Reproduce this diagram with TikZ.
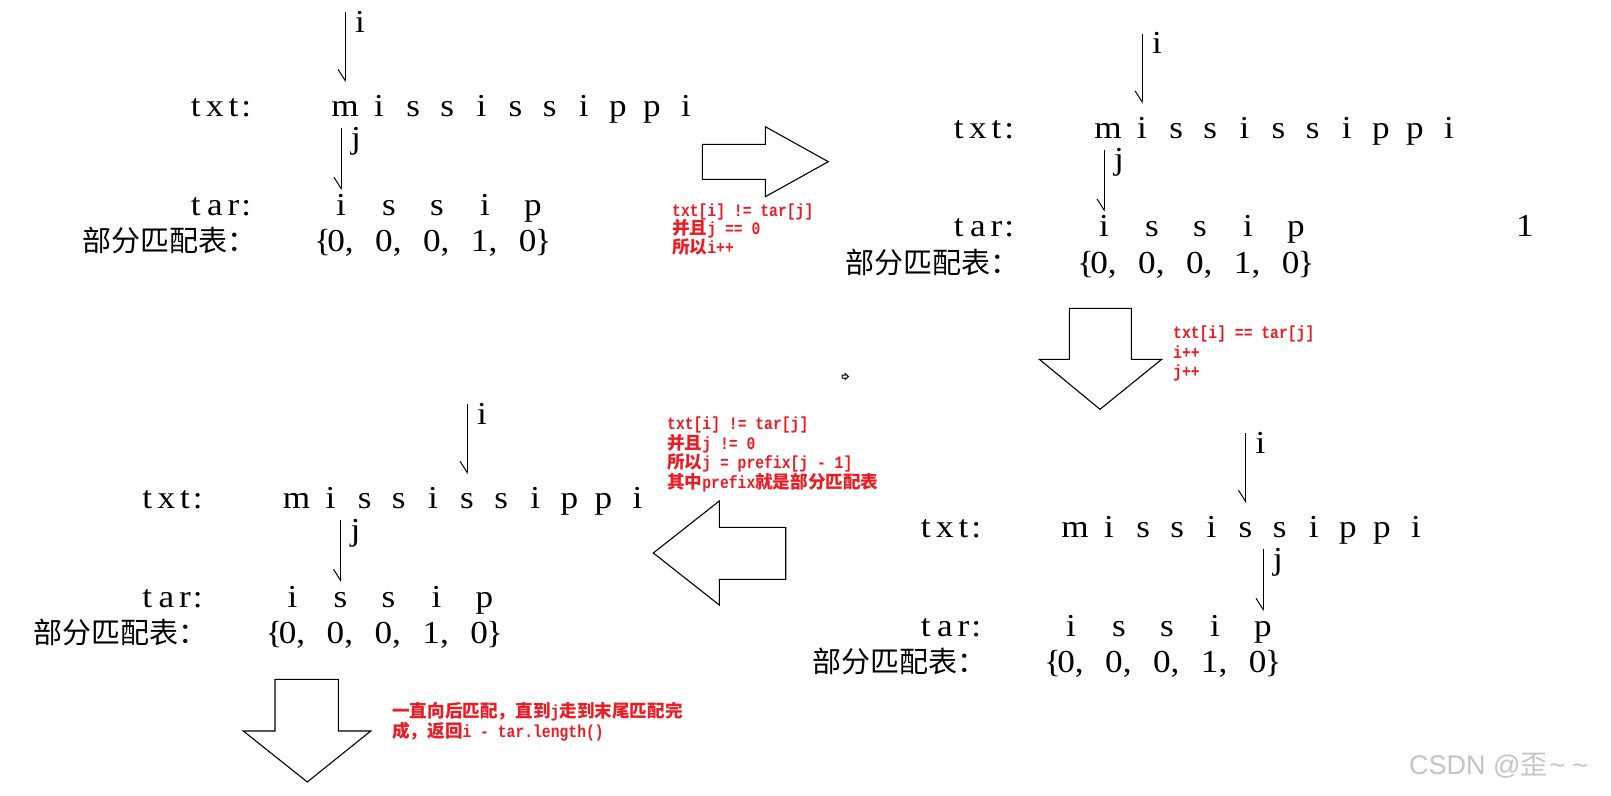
\documentclass[tikz,border=0pt]{standalone}
\usepackage{fontspec}
\setmainfont{Liberation Serif}[FakeStretch=1.1]
\newfontfamily\zh{Noto Sans CJK SC}
\newfontfamily\rmono{Liberation Mono}[FakeStretch=0.84]
\newfontfamily\wmfont{Liberation Sans}
\usetikzlibrary{arrows.meta}
\definecolor{redtxt}{RGB}{235,28,36}
\definecolor{wmgray}{RGB}{196,196,196}
\newcommand\lat{\fontsize{32}{36}\selectfont}
\newcommand\cjkbig{\zh\fontsize{29}{33}\selectfont}
\newcommand\rz[1]{{\zh\bfseries\fontsize{17.6}{19}\selectfont #1}}
\newcommand\rl{\rmono\bfseries\fontsize{17.5}{19}\selectfont}
\newcommand\word[4]{\makebox[19pt]{#1}\makebox[19.5pt]{#2}\makebox[17.5pt]{#3}\makebox[8pt]{#4}}
\newcommand\cell[1]{\makebox[47.9pt][l]{#1}}
\tikzset{
  lt/.style={inner sep=0pt, anchor=base, font=\lat},
  lbl/.style={inner sep=0pt, anchor=base west, font=\lat},
  zhlbl/.style={inner sep=0pt, anchor=base west, font=\cjkbig},
  ptr/.style={line width=1pt, -{Straight Barb[right,length=11pt,width=14pt]}},
  blockarrow/.style={draw, line width=1.1pt, fill=white, line join=miter},
  redline/.style={inner sep=0pt, anchor=base west, text=redtxt, font=\rl},
}
% #1 prefix, #2 dx, #3 dy, #4 txt index of i, #5 tar index of j
\newcommand\blk[5]{%
\begin{scope}[shift={(#2,#3)}]
  \node[lbl] (#1txt) at (186,116.7) {\word{t}{x}{t}{:}};
  \foreach \c [count=\k from 0] in {m,i,s,s,i,s,s,i,p,p,i}
    \node[lt] (#1t\k) at (345+34.1*\k,116.7) {\c};
  \node[lbl] (#1tar) at (186,215) {\word{t}{a}{r}{:}};
  \foreach \c [count=\k from 0] in {i,s,s,i,p}
    \node[lt] (#1p\k) at (341+48*\k,215) {\c};
  \node[zhlbl] (#1tbl) at (82,251.7) {部分匹配表：};
  \node[lbl] (#1pm) at (314,251.7)
    {\{\kern-3.8pt\cell{0,}\cell{0,}\cell{0,}\cell{1,}0\kern-2pt\}};
  \coordinate (#1is) at (#1t#4 |- 0,12);
  \coordinate (#1ie) at (#1t#4 |- 0,82);
  \draw[ptr] (#1is) -- (#1ie);
  \node[lt] (#1il) at ([xshift=15pt]#1is |- 0,32) {i};
  \coordinate (#1js) at (#1p#5 |- 0,128);
  \coordinate (#1je) at (#1p#5 |- 0,190);
  \draw[ptr] (#1js) -- (#1je);
  \node[lt] (#1jl) at ([xshift=15pt]#1js |- 0,148) {j};
\end{scope}}
\begin{document}
\begin{tikzpicture}[x=1pt,y=-1pt]
\fill[white] (0,0) rectangle (1611,795);
\useasboundingbox (0,0) rectangle (1611,795);

\blk{a}{0}{0}{0}{0}
\blk{b}{763}{21.6}{1}{0}
\blk{c}{-48.5}{392}{5}{1}
\blk{d}{730}{421}{5}{4}
\node[lt] (bone) at (1525,236.6) {1};

% block arrows
\draw[blockarrow] (702.3,144.3) -- (765.3,144.3) -- (765.3,126.7) -- (828.3,161.7)
  -- (765.3,196.7) -- (765.3,179.3) -- (702.3,179.3) -- cycle;
\draw[blockarrow] (1069.3,308.3) -- (1131.3,308.3) -- (1131.3,359.3) -- (1161.7,359.3)
  -- (1100,409.3) -- (1039.3,359.3) -- (1069.3,359.3) -- cycle;
\draw[blockarrow] (785.7,527.3) -- (719.3,527.3) -- (719.3,501) -- (653.3,553)
  -- (719.3,605) -- (719.3,579.3) -- (785.7,579.3) -- cycle;
\draw[blockarrow] (275,679.3) -- (338.3,679.3) -- (338.3,731) -- (370.7,731)
  -- (307.3,782) -- (243.3,731) -- (275,731) -- cycle;
\draw[line width=1pt] (842,375) -- (845,375) -- (845,373.5) -- (848.5,376.5)
  -- (845,379.5) -- (845,378) -- (842,378) -- cycle;

% red notes
\node[redline] (r1a) at (672,216) {txt[i] != tar[j]};
\node[redline] (r1b) at (672,234.5) {\rz{并且}j == 0};
\node[redline] (r1c) at (672,253) {\rz{所以}i++};

\node[redline] (r2a) at (1173,338) {txt[i] == tar[j]};
\node[redline] (r2b) at (1173,358) {i++};
\node[redline] (r2c) at (1173,377) {j++};

\node[redline] (r3a) at (667,429) {txt[i] != tar[j]};
\node[redline] (r3b) at (667,449) {\rz{并且}j != 0};
\node[redline] (r3c) at (667,468) {\rz{所以}j = prefix[j - 1]};
\node[redline] (r3d) at (667,488) {\rz{其中}prefix\rz{就是部分匹配表}};

\node[redline] (r4a) at (392,717) {\rz{一直向后匹配，直到}j\rz{走到末尾匹配完}};
\node[redline] (r4b) at (392,737) {\rz{成，返回}i - tar.length()};

% watermark
\node[inner sep=0pt, anchor=base west, text=wmgray, font=\wmfont\fontsize{27}{30}\selectfont]
  (wm) at (1409,774) {CSDN @{\zh 歪}\hspace{2pt}\textasciitilde\hspace{7pt}\textasciitilde};
\end{tikzpicture}
\end{document}
